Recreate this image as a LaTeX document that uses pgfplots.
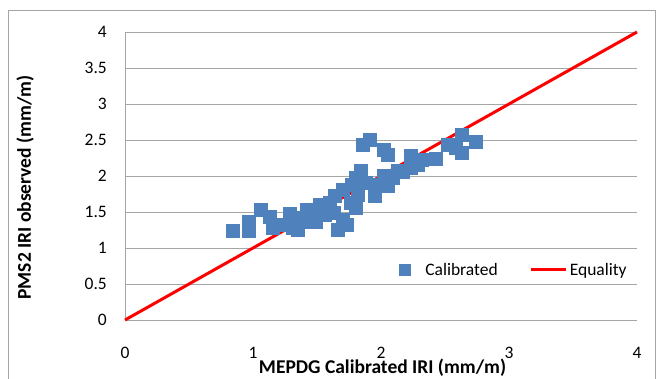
\documentclass[border=0pt]{standalone}
\usepackage{pgfplots}
\pgfplotsset{compat=1.18}
\usepackage{fontspec}
\setmainfont{Carlito}
\definecolor{xlblue}{HTML}{4F81BD}
\definecolor{gridgray}{HTML}{A6A6A6}
\pgfplotstableread{
x y
0.84 1.24
0.97 1.36
0.97 1.24
1.06 1.53
1.13 1.44
1.15 1.28
1.23 1.32
1.29 1.47
1.31 1.28
1.37 1.42
1.35 1.25
1.42 1.53
1.41 1.36
1.47 1.50
1.49 1.36
1.52 1.60
1.56 1.46
1.60 1.63
1.63 1.49
1.64 1.72
1.66 1.25
1.70 1.39
1.70 1.81
1.73 1.32
1.76 1.63
1.77 1.88
1.80 1.97
1.80 1.56
1.82 1.74
1.84 2.08
1.86 2.43
1.91 2.50
1.88 1.90
2.02 2.36
2.05 2.30
1.95 1.72
1.98 1.88
2.02 2.01
2.05 1.86
2.09 1.97
2.13 2.08
2.17 2.06
2.23 2.28
2.23 2.11
2.29 2.15
2.32 2.22
2.43 2.24
2.52 2.44
2.58 2.39
2.63 2.58
2.63 2.32
2.74 2.47
}\calib
\begin{document}
\begin{tikzpicture}[x=1pt,y=1pt]
\useasboundingbox (0,0) rectangle (657,379);
\draw[gridgray] (8,0) -- (8,369) -- (655,369) -- (655,0);
\begin{axis}[
  at={(125pt,59pt)}, anchor=south west,
  scale only axis, width=512pt, height=288pt,
  xmin=0, xmax=4, ymin=0, ymax=4,
  xtick={0,1,2,3,4}, ytick={0,0.5,...,4},
  axis x line=bottom, axis y line=left,
  axis line style={gridgray, -},
  major tick length=0pt,
  ymajorgrids, grid style={gridgray, line width=0.8pt},
  /pgf/number format/assume math mode=true,
  ticklabel style={font=\fontsize{17.5}{20}\selectfont},
  yticklabel style={anchor=east, inner sep=0pt, xshift=-18pt},
  xticklabel style={anchor=north, inner sep=0pt, yshift=-27pt},
  xlabel={\textbf{MEPDG Calibrated IRI (mm/m)}},
  ylabel={\textbf{PMS2 IRI observed (mm/m)}},
  xlabel style={at={(axis description cs:0.503,0)}, anchor=center, yshift=-48pt, font=\fontsize{19.5}{22}\selectfont},
  ylabel style={at={(axis description cs:-0.1953,0.46)}, anchor=center, font=\fontsize{19.5}{22}\selectfont},
  legend style={draw=none, fill=none, at={(axis description cs:0.99,0.174)}, anchor=east,
    font=\fontsize{17.5}{20}\selectfont, /tikz/every even column/.append style={column sep=30pt}},
  legend columns=2,
  clip=false,
]
\addplot[only marks, mark=square*, mark size=6.5pt, mark options={fill=xlblue, draw=xlblue}, color=xlblue,
  legend image code/.code={\fill[xlblue] (0pt,-5.5pt) rectangle (11pt,5.5pt); \path[draw=none,fill=none] (0pt,0pt) -- (24pt,0pt);}] table {\calib};
\addlegendentry{Calibrated}
\addplot[red, line width=3pt, legend image code/.code={\draw[red, line width=3pt] (-5pt,0pt) -- (30pt,0pt);}] coordinates {(0,0) (4,4)};
\addlegendentry{Equality}
\end{axis}
\end{tikzpicture}
\end{document}
